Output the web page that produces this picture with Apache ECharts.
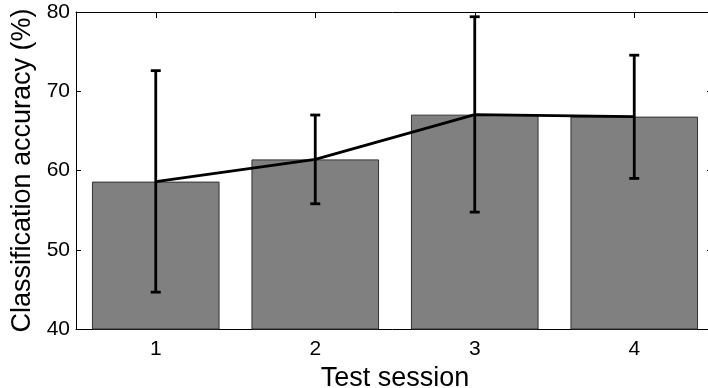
<!DOCTYPE html>
<html>
<head>
<meta charset="utf-8">
<script src="https://cdn.jsdelivr.net/npm/echarts@6/dist/echarts.min.js"></script>
<style>html,body{margin:0;padding:0;background:#fff;}#c{width:708px;height:388px;}</style>
</head>
<body>
<div id="c"></div>
<script>
const categories = ['1', '2', '3', '4'];
const meanValues = [58.6, 61.4, 67.05, 66.8];
const errLow = [44.65, 55.8, 54.75, 59.0];
const errHigh = [72.6, 67.0, 79.4, 74.55];
const yTicks = [40, 50, 60, 70, 80];

const FONT = '"Liberation Sans", Arial, Helvetica, sans-serif';
const chart = echarts.init(document.getElementById('c'));
const errData = categories.map((c, i) => [i, errLow[i], errHigh[i]]);

chart.setOption({
  animation: false,
  backgroundColor: '#fff',
  grid: { left: 76, top: 12, width: 638, height: 317, containLabel: false, outerBoundsMode: 'none' },
  xAxis: [{
    type: 'category', data: categories, position: 'bottom',
    boundaryGap: true,
    name: 'Test session', nameLocation: 'middle', nameGap: 26,
    nameTextStyle: { fontFamily: FONT, fontSize: 27, color: '#000' },
    axisLine: { lineStyle: { color: '#000', width: 1 } },
    axisTick: { show: true, inside: true, length: 6, alignWithLabel: true, lineStyle: { color: '#000' } },
    axisLabel: { fontFamily: FONT, fontSize: 21, color: '#000', margin: 10 },
    splitLine: { show: false }
  }, {
    type: 'category', data: categories, position: 'top',
    boundaryGap: true,
    axisLine: { lineStyle: { color: '#000', width: 1 } },
    axisTick: { show: true, inside: true, length: 6, alignWithLabel: true, lineStyle: { color: '#000' } },
    axisLabel: { show: false },
    splitLine: { show: false }
  }],
  yAxis: [{
    type: 'value', min: yTicks[0], max: yTicks[yTicks.length - 1], interval: 10,
    name: 'Classification accuracy (%)', nameLocation: 'middle', nameGap: 40,
    nameTextStyle: { fontFamily: FONT, fontSize: 27, color: '#000' },
    axisLine: { show: true, lineStyle: { color: '#000', width: 1 } },
    axisTick: { show: true, inside: true, length: 5, lineStyle: { color: '#000' } },
    axisLabel: { fontFamily: FONT, fontSize: 21, color: '#000', margin: 6 },
    splitLine: { show: false }
  }, {
    type: 'value', min: yTicks[0], max: yTicks[yTicks.length - 1], interval: 10, position: 'right',
    axisLine: { show: true, lineStyle: { color: '#000', width: 1 } },
    axisTick: { show: true, inside: true, length: 7, lineStyle: { color: '#000' } },
    axisLabel: { show: false },
    splitLine: { show: false }
  }],
  series: [{
    type: 'bar', data: meanValues, barWidth: '80%',
    itemStyle: { color: '#808080', borderColor: '#333', borderWidth: 1 },
    z: 2
  }, {
    type: 'line', data: meanValues, symbol: 'none',
    lineStyle: { color: '#000', width: 2.8 },
    z: 3
  }, {
    type: 'custom', data: errData, z: 4,
    renderItem: function (params, api) {
      const x = api.value(0);
      const lo = api.coord([x, api.value(1)]);
      const hi = api.coord([x, api.value(2)]);
      const cw = 5;
      const st = { stroke: '#000', lineWidth: 2.8 };
      return {
        type: 'group',
        children: [
          { type: 'line', shape: { x1: lo[0], y1: lo[1], x2: hi[0], y2: hi[1] }, style: st },
          { type: 'line', shape: { x1: hi[0] - cw, y1: hi[1], x2: hi[0] + cw, y2: hi[1] }, style: st },
          { type: 'line', shape: { x1: lo[0] - cw, y1: lo[1], x2: lo[0] + cw, y2: lo[1] }, style: st }
        ]
      };
    }
  }]
});
</script>
</body>
</html>
